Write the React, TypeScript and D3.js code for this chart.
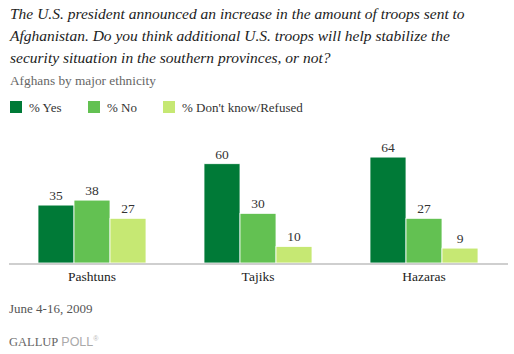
import * as d3 from "d3";
import React from "react";

const titleLines = [
  "The U.S. president announced an increase in the amount of troops sent to",
  "Afghanistan. Do you think additional U.S. troops will help stabilize the",
  "security situation in the southern provinces, or not?",
];
const subtitle = "Afghans by major ethnicity";
const categories = ["Pashtuns", "Tajiks", "Hazaras"];
const seriesKeys = ["yes", "no", "dk"];
const seriesLabels = ["% Yes", "% No", "% Don't know/Refused"];
const seriesColors = ["#007A37", "#63C152", "#C6E873"];
const yesValues = [35, 60, 64];
const noValues = [38, 30, 27];
const dkValues = [27, 10, 9];
const dateText = "June 4-16, 2009";

const W = 514;
const H = 354;
const serif = "'Liberation Serif', 'DejaVu Serif', serif";
const sans = "'Liberation Sans', Arial, sans-serif";

export default function App() {
  const valuesByKey: Record<string, number[]> = { yes: yesValues, no: noValues, dk: dkValues };
  const rows = categories.map((c, i) => ({
    cat: c,
    vals: seriesKeys.map((k) => ({ key: k, v: valuesByKey[k][i] })),
  }));

  const x0 = d3.scaleBand<string>().domain(categories).range([9, 507]).paddingInner(0).paddingOuter(0);
  const x1 = d3
    .scaleBand<string>()
    .domain(seriesKeys)
    .range([(x0.bandwidth() - 108) / 2, (x0.bandwidth() + 108) / 2]);
  const y = d3.scaleLinear().domain([0, 100]).range([263, 97.5]);
  const color = d3.scaleOrdinal<string, string>().domain(seriesKeys).range(seriesColors);

  const legendX = [10, 88, 163];

  return (
    <div style={{ position: "absolute", left: 0, top: 0 }}>
      <svg width={W} height={H} style={{ display: "block", background: "#fff" }}>
        {titleLines.map((t, i) => (
          <text key={i} x={10} y={19 + i * 22} fontFamily={serif} fontStyle="italic" fontSize={15.5} fill="#222">
            {t}
          </text>
        ))}
        <text x={10} y={85} fontFamily={serif} fontSize={13.3} fill="#666">
          {subtitle}
        </text>

        {seriesKeys.map((k, i) => (
          <g key={k} transform={`translate(${legendX[i]},101)`}>
            <rect width={12} height={12} fill={color(k)} />
            <text x={19} y={11} fontFamily={serif} fontSize={13} fill="#333">
              {seriesLabels[i]}
            </text>
          </g>
        ))}

        {rows.map((r) => (
          <g key={r.cat} transform={`translate(${x0(r.cat)},0)`}>
            {r.vals.map((d) => (
              <g key={d.key}>
                <rect
                  x={x1(d.key)}
                  y={y(d.v)}
                  width={x1.bandwidth()}
                  height={y(0) - y(d.v)}
                  fill={color(d.key)}
                  stroke="#fff"
                  strokeWidth={0.8}
                />
                <text
                  x={(x1(d.key) ?? 0) + x1.bandwidth() / 2}
                  y={y(d.v) - 5}
                  textAnchor="middle"
                  fontFamily={serif}
                  fontSize={13.5}
                  fill="#333"
                >
                  {d.v}
                </text>
              </g>
            ))}
            <text x={x0.bandwidth() / 2} y={281} textAnchor="middle" fontFamily={serif} fontSize={13.5} fill="#222">
              {r.cat}
            </text>
          </g>
        ))}

        <line x1={9} x2={508} y1={264} y2={264} stroke="#cfcfcf" strokeWidth={2} />

        <text x={9} y={313} fontFamily={serif} fontSize={13} fill="#555">
          {dateText}
        </text>
        <text x={9} y={346} fontSize={12.5}>
          <tspan fontFamily={serif} fill="#666">GALLUP</tspan>
          <tspan fontFamily={sans} fill="#aaa" dx={3}>POLL</tspan>
          <tspan fontFamily={sans} fill="#bbb" fontSize={7} dy={-5}>®</tspan>
        </text>
      </svg>
    </div>
  );
}
